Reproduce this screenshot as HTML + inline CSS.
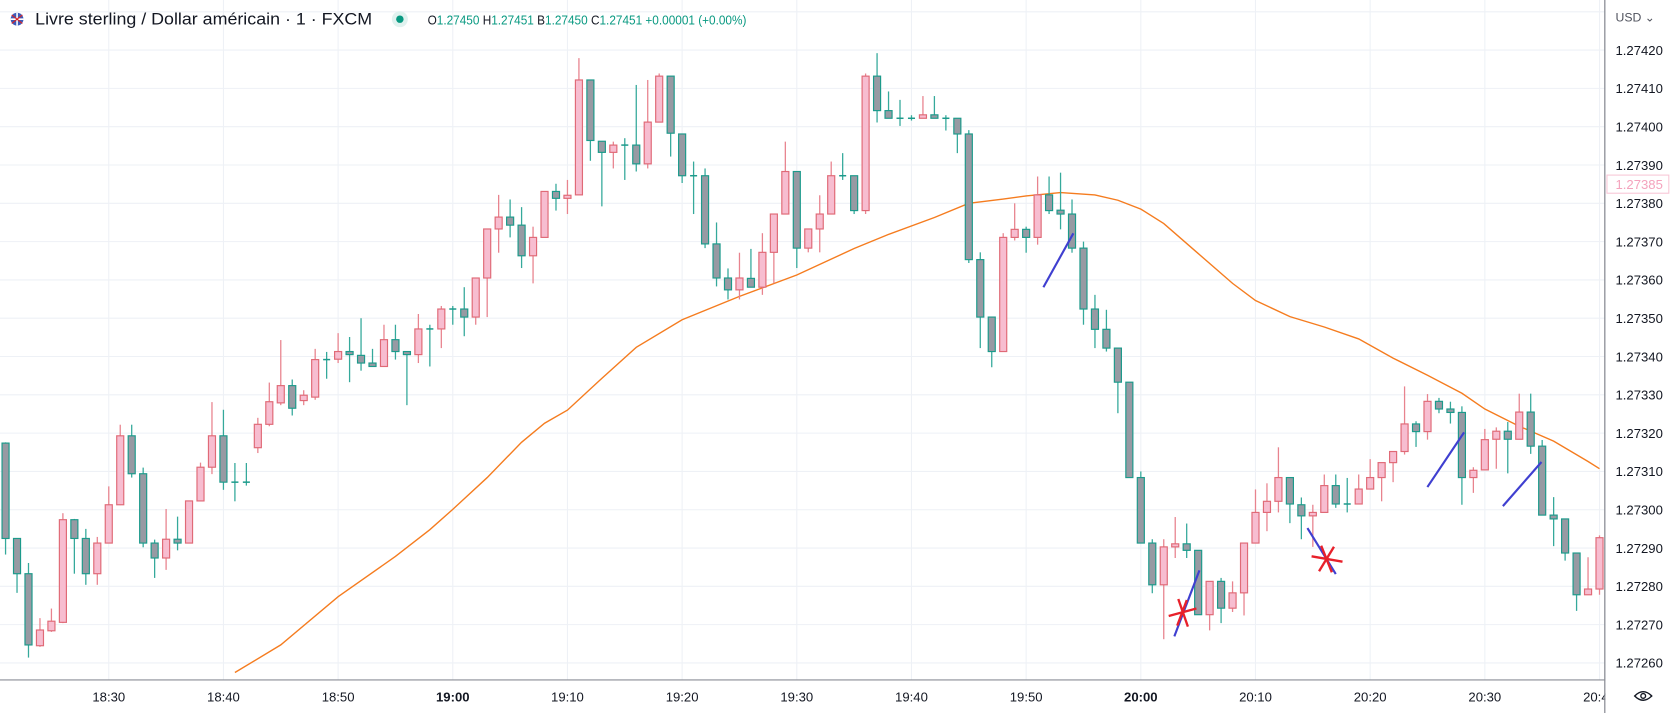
<!DOCTYPE html>
<html><head><meta charset="utf-8"><title>GBP/USD chart</title>
<style>
html,body{margin:0;padding:0;background:#fff;overflow:hidden}
svg{display:block}
text{font-family:"Liberation Sans",sans-serif}
</style></head>
<body>
<svg id="chart" width="1672" height="713" viewBox="0 0 1568 669" preserveAspectRatio="none" xmlns="http://www.w3.org/2000/svg">
  <rect x="0" y="0" width="1568" height="669" fill="#ffffff"/>
  <g id="grid"></g>
  <g id="ema"></g>
  <g id="candles"></g>
  <g id="drawings">
    <line x1="978.5" y1="269.5" x2="1006.6" y2="218.9" stroke="#3f3fd0" stroke-width="2"/>
    <line x1="1101.3" y1="597.1" x2="1124.8" y2="535.2" stroke="#3f3fd0" stroke-width="2"/>
    <line x1="1226.1" y1="495.5" x2="1252.7" y2="538.6" stroke="#3f3fd0" stroke-width="2"/>
    <line x1="1338.6" y1="457" x2="1373" y2="405.7" stroke="#3f3fd0" stroke-width="2"/>
    <line x1="1409.4" y1="474.9" x2="1445.6" y2="433.5" stroke="#3f3fd0" stroke-width="2"/>
    <g stroke="#e8202a" stroke-width="2.2">
      <line x1="1096" y1="578" x2="1122" y2="571"/><line x1="1105" y1="562" x2="1114" y2="588"/><line x1="1113" y1="563" x2="1104" y2="587"/>
    </g>
    <g stroke="#e8202a" stroke-width="2.2">
      <line x1="1230" y1="522" x2="1259" y2="527"/><line x1="1239" y1="512" x2="1249" y2="537"/><line x1="1251" y1="513" x2="1237" y2="536"/>
    </g>
  </g>
  <g id="axes"></g>
  <g>
    <circle cx="16" cy="18" r="6" fill="#3d5ab8"/>
    <path d="M10 18h12M16 12v12" stroke="#fff" stroke-width="1.5"/>
    <path d="M11 14l10 8M21 14l-10 8" stroke="#d22" stroke-width="1"/>
    <text x="33" y="23" font-size="15.5" fill="#131722" textLength="316" lengthAdjust="spacingAndGlyphs">Livre sterling / Dollar américain · 1 · FXCM</text>
    <circle cx="375" cy="18" r="7.5" fill="#e0f2ef"/>
    <circle cx="375" cy="18" r="3.5" fill="#089981"/>
    <text x="401" y="23" font-size="12.5" fill="#089981" textLength="299" lengthAdjust="spacingAndGlyphs"><tspan fill="#131722">O</tspan>1.27450 <tspan fill="#131722">H</tspan>1.27451 <tspan fill="#131722">B</tspan>1.27450 <tspan fill="#131722">C</tspan>1.27451 +0.00001 (+0.00%)</text>
  </g>
</svg>
<script>
// values in pipettes above 1.27000 (1 pipette = 0.00001)
const firstMinuteFromTick0 = -9; // first candle is 18:21
const openPipettes = [317.4,292.5,283.3,264.5,268.4,270.6,297.4,292.5,283.3,291.3,301.3,319.3,309.4,291.3,287.4,292.3,291.3,302.3,311.1,319.3,307.2,307.2,316.2,322.3,327.9,332.4,328.5,329.4,339.2,339.3,341.3,340.3,338.3,337.4,344.4,341.3,340.5,347.2,347.2,352.4,352.4,350.3,360.5,373.3,376.4,374.3,366.3,371.1,383.1,381.3,382.2,412.2,396.2,393.3,395.2,395.2,390.3,401.2,413.2,398.1,387.2,387.2,369.4,360.5,357.4,360.4,358.1,367.2,377.2,388.3,368.3,373.3,377.2,387.2,387.2,378.1,413.2,404.2,402.2,402.2,402.2,403.1,402.2,402.2,398.1,365.3,350.3,341.3,371.1,373.2,371.1,382.2,378.2,377.2,368.3,352.4,347.1,342.2,333.3,308.4,291.3,280.4,290.3,291.1,289.4,272.6,281.3,274.3,278.3,291.3,299.3,302.2,308.4,301.3,298.4,299.3,306.3,301.5,301.5,305.4,308.4,312.3,315.2,322.4,320.4,328.3,326.3,325.4,308.4,310.4,318.4,320.5,318.4,325.5,316.6,298.6,297.6,288.7,277.8,279.3];
const highPipettes = [317.6,292.6,286.1,271.7,274.2,299.1,297.6,295.0,292.9,306.1,322.2,322.2,311.0,292.2,300.2,298.2,302.3,312.3,328.1,326.1,312.2,312.2,324.0,333.2,344.3,334.0,331.2,342.0,341.2,346.1,345.1,350.0,342.0,348.3,348.3,341.3,351.1,348.3,353.2,353.2,358.1,360.5,373.3,382.2,381.0,379.0,373.9,383.1,385.1,386.1,417.9,412.2,396.2,396.1,397.0,410.9,412.2,413.9,413.2,398.1,390.9,389.1,375.0,363.0,367.1,368.1,372.2,377.2,396.1,388.3,373.3,382.1,390.9,393.1,387.2,413.9,419.2,409.2,407.0,403.0,408.0,408.0,403.0,402.2,399.1,367.2,350.3,372.2,380.0,373.9,387.0,387.0,388.0,381.0,370.0,356.1,352.2,342.2,333.3,310.0,292.3,292.3,298.1,296.4,289.4,281.3,282.2,281.3,291.3,305.3,306.9,316.3,308.4,303.2,301.3,309.2,309.2,308.3,309.2,313.2,312.3,315.2,332.2,323.1,330.2,329.2,328.2,327.0,311.1,321.1,321.5,322.9,330.3,330.3,318.2,303.3,297.6,288.7,287.6,293.3];
const lowPipettes = [288.3,278.3,261.4,264.2,268.1,270.4,283.3,280.4,280.4,291.2,301.2,308.4,290.2,282.2,284.3,289.4,291.2,302.3,309.3,305.2,302.2,306.3,314.8,321.8,327.3,324.6,327.3,328.7,334.2,338.3,333.3,336.3,337.4,337.4,339.2,327.3,338.3,337.4,342.2,348.3,345.3,348.3,350.3,367.1,371.1,363.1,359.1,371.1,378.1,377.2,382.2,391.1,379.2,389.1,386.1,388.3,389.1,401.2,392.2,385.3,377.2,368.3,358.3,354.9,354.9,358.1,356.1,359.1,377.2,363.1,367.2,367.2,377.2,386.1,377.2,377.2,401.1,402.2,400.2,401.6,402.2,402.2,399.0,393.1,364.4,342.2,337.2,341.3,370.3,367.1,369.2,377.2,373.2,367.1,348.3,342.2,341.3,325.2,308.4,291.3,278.2,266.2,287.4,287.4,272.6,268.5,270.4,273.3,272.4,291.3,294.4,299.3,296.5,292.3,290.3,299.3,300.5,299.3,301.5,305.4,302.2,307.2,314.4,316.4,318.3,325.2,322.5,301.3,304.4,310.4,310.7,309.5,318.4,314.6,298.6,290.5,286.7,273.6,277.8,277.8];
const closePipettes = [292.5,283.3,264.7,268.6,270.9,297.4,292.5,283.3,291.3,301.3,319.3,309.4,291.3,287.4,292.3,291.3,302.3,311.1,319.3,307.2,307.2,307.2,322.3,328.2,332.4,326.5,329.9,339.2,339.2,341.3,340.5,338.3,337.4,344.4,341.3,340.5,347.2,347.2,352.4,352.4,350.3,360.5,373.3,376.4,374.3,366.3,371.1,383.1,381.3,382.1,412.2,396.4,393.3,395.2,395.2,390.3,401.2,413.2,398.3,387.2,387.2,369.4,360.5,357.4,360.5,358.1,367.2,377.2,388.3,368.3,373.3,377.2,387.2,387.2,378.1,413.2,404.2,402.2,402.2,402.2,403.1,402.2,402.2,398.1,365.3,350.3,341.3,371.1,373.2,371.1,382.2,378.1,377.2,368.3,352.4,347.1,342.2,333.3,308.4,291.3,280.4,290.3,291.1,289.4,272.6,281.3,274.3,278.3,291.3,299.3,302.2,308.4,301.5,298.4,299.3,306.3,301.5,301.5,305.4,308.4,312.3,315.2,322.4,320.4,328.3,326.3,325.4,308.4,310.3,318.3,320.5,318.4,325.5,316.6,298.6,297.6,288.7,277.8,279.3,292.7];
// moving average: minute index (from 18:30) and value in pipettes
const emaMinutes = [11,15,20,25,28,30,33,36,38,40,43,46,50,55,60,65,68,72,75,78,80,83,86,88,90,92,95,98,100,103,106,109,112,115,118,120,123,126,129,130];
const emaPipettes = [257.5,264.7,277.3,287.8,294.8,300.1,308.4,317.6,322.6,326.0,334.3,342.4,349.6,355.7,361.3,368.2,371.9,376.3,380.0,381.1,381.9,382.8,382.2,380.8,378.5,374.7,366.9,359.1,354.6,350.4,347.7,344.6,339.6,335.1,330.4,326.3,321.8,317.9,312.6,310.7];
const priceTicks = ["1.27420","1.27410","1.27400","1.27390","1.27380","1.27370","1.27360","1.27350","1.27340","1.27330","1.27320","1.27310","1.27300","1.27290","1.27280","1.27270","1.27260"];
const timeTicks = ["18:30","18:40","18:50","19:00","19:10","19:20","19:30","19:40","19:50","20:00","20:10","20:20","20:30","20:40"];
const boldTicks = ["19:00","20:00"];
const lastPrice = "1.27385";

const NS = "http://www.w3.org/2000/svg";
const PANE_R = 1505, PANE_B = 638;
function priceOf(p){ return 1.27 + p/100000; }
function yScale(price){ return 47 + (1.27420 - price) * 359400; }
function xScale(minute){ return 102 + minute * 10.754; }
function mk(tag, attrs, parent){ const e=document.createElementNS(NS,tag); for(const k in attrs) e.setAttribute(k,attrs[k]); parent.appendChild(e); return e; }

const grid=document.getElementById('grid');
for(let v=1.27430; v>1.27250; v-=0.0001){
  const y=yScale(v);
  const l=mk('line',{x1:0,x2:PANE_R,y1:y,y2:y,stroke:'#eef1f6','stroke-width':1},grid);
  
  
}
timeTicks.forEach((t,i)=>{
  const x=xScale(i*10);
  const l=mk('line',{x1:x,x2:x,y1:0,y2:PANE_B,stroke:'#eef1f6','stroke-width':1},grid);
  
  
});

// EMA
const emaG=document.getElementById('ema');
let d='';
emaMinutes.forEach((m,i)=>{ d+=(i?'L':'M')+xScale(m).toFixed(1)+' '+yScale(priceOf(emaPipettes[i])).toFixed(1); });
const emaPath=mk('path',{d:d,fill:'none',stroke:'#f57c1f','stroke-width':1.3},emaG);


emaG.setAttribute('clip-path','url(#paneClip)');
const defs=mk('defs',{},document.getElementById('chart'));
const cp=mk('clipPath',{id:'paneClip'},defs);
mk('rect',{x:0,y:0,width:PANE_R,height:PANE_B},cp);

// candles
const cg=document.getElementById('candles');
cg.setAttribute('clip-path','url(#paneClip)');
const BW=6.6;
openPipettes.forEach((o,i)=>{
  const c=closePipettes[i], h=highPipettes[i], lo=lowPipettes[i];
  const up=c>o;
  const x=xScale(i+firstMinuteFromTick0);
  const g=mk('g',{},cg);
  
  
  const wick = up ? '#e8838e' : '#35a99b';
  mk('line',{x1:x,x2:x,y1:yScale(priceOf(h)),y2:yScale(priceOf(lo)),stroke:wick,'stroke-width':1.2},g);
  const yt=yScale(priceOf(Math.max(o,c))), yb=yScale(priceOf(Math.min(o,c)));
  const hgt=Math.max(yb-yt,1.2);
  if(yb-yt<1.5){
    mk('line',{x1:x-BW/2,x2:x+BW/2,y1:yt,y2:yt,stroke: up?'#e06a77':'#1c9a8b','stroke-width':1.4},g);
  } else {
    mk('rect',{x:x-BW/2,y:yt,width:BW,height:hgt,fill: up?'#f7bdd0':'#979aa3',stroke: up?'#e06a77':'#1c9a8b','stroke-width':1.1},g);
  }
});

// axes
const ax=document.getElementById('axes');
mk('rect',{x:PANE_R,y:0,width:1568-PANE_R,height:669,fill:'#fff'},ax);
mk('rect',{x:0,y:PANE_B,width:1568,height:31,fill:'#fff'},ax);
mk('line',{x1:PANE_R,x2:PANE_R,y1:0,y2:669,stroke:'#8b8e96','stroke-width':1},ax);
mk('line',{x1:0,x2:PANE_R,y1:PANE_B,y2:PANE_B,stroke:'#8b8e96','stroke-width':1},ax);
priceTicks.forEach(t=>{
  const tx=mk('text',{x:1515,y:yScale(parseFloat(t))+4.5,'font-size':12.3,fill:'#131722'},ax);
  tx.textContent=t;
  
  
});
timeTicks.forEach((t,i)=>{
  const tx=mk('text',{x:xScale(i*10),y:658,'font-size':12.3,fill:'#131722','text-anchor':'middle','font-weight':boldTicks.includes(t)?'bold':'normal'},ax);
  tx.textContent=t;
  
  
});
mk('rect',{x:PANE_R+0.5,y:PANE_B+1,width:62,height:30,fill:'#fff'},ax);
mk('line',{x1:PANE_R,x2:PANE_R,y1:0,y2:669,stroke:'#8b8e96','stroke-width':1},ax);
const usd=mk('text',{x:1515,y:20,'font-size':11.5,fill:'#50535e'},ax);
usd.textContent='USD ⌄';


const ly=yScale(parseFloat(lastPrice));
const lr=mk('rect',{x:1507,y:ly-8.5,width:58,height:17,fill:'#fff',stroke:'#f8c6d6','stroke-width':1},ax);


const lt=mk('text',{x:1515,y:ly+4.5,'font-size':12.3,fill:'#f4a3bd'},ax);
lt.textContent=lastPrice;


const eye=mk('g',{},ax);


mk('path',{d:'M1533 653 Q1541 645 1549 653 Q1541 661 1533 653 Z',fill:'none',stroke:'#131722','stroke-width':1.3},eye);
mk('circle',{cx:1541,cy:653,r:2.2,fill:'none',stroke:'#131722','stroke-width':1.3},eye);
</script>
</body></html>
